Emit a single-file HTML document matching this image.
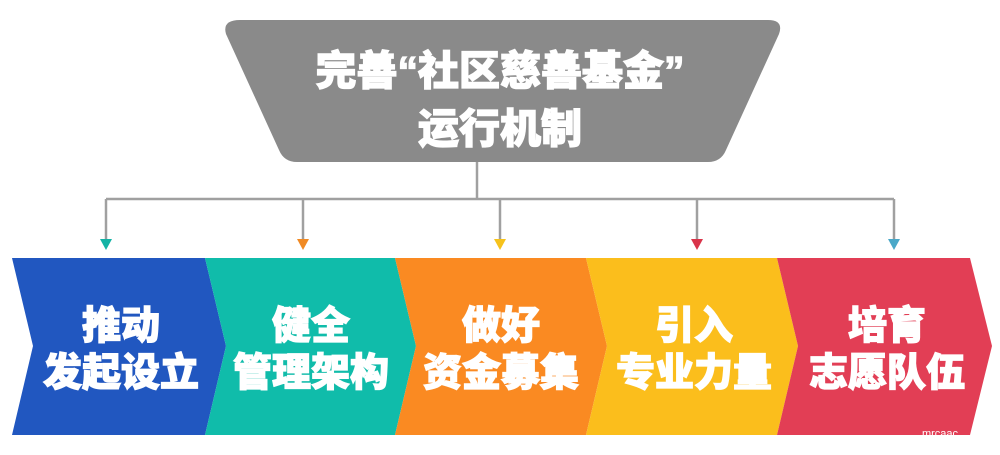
<!DOCTYPE html>
<html><head><meta charset="utf-8"><style>
body{margin:0;background:#fff;width:1000px;height:450px;overflow:hidden}
svg text{font-family:"Liberation Sans","Noto Sans CJK SC",sans-serif;font-weight:900;fill:#fff;stroke:#fff;stroke-width:1.2;text-anchor:middle}
</style></head><body>
<svg width="1000" height="450" viewBox="0 0 1000 450">
<path d="M240,20 L768,20 Q784,20 779,34 L726,150 Q721,162 708,162 L297,162 Q284,162 279,150 L226,34 Q222,20 240,20 Z" fill="#8a8a8a"/>
<text x="500" y="85" font-size="41">完善“社区慈善基金”</text>
<text x="500" y="143" font-size="41">运行机制</text>
<g stroke="#a0a0a0" stroke-width="2.5" fill="none">
<line x1="477" y1="162" x2="477" y2="199"/>
<line x1="106" y1="199" x2="894" y2="199"/>
<line x1="106" y1="199" x2="106" y2="240"/>
<line x1="303" y1="199" x2="303" y2="240"/>
<line x1="500" y1="199" x2="500" y2="240"/>
<line x1="697" y1="199" x2="697" y2="240"/>
<line x1="894" y1="199" x2="894" y2="240"/>
</g>
<polygon points="100,239 112,239 106,250" fill="#14b3a5"/>
<polygon points="297,239 309,239 303,250" fill="#f08a24"/>
<polygon points="494,239 506,239 500,250" fill="#f6c21c"/>
<polygon points="691,239 703,239 697,250" fill="#d9344a"/>
<polygon points="888,239 900,239 894,250" fill="#4aa8c8"/>
<polygon points="12,258 205,258 226,346 205,435 12,435 33,346" fill="#2157c0"/>
<polygon points="205,258 395,258 416,346 395,435 205,435 226,346" fill="#10bcaa"/>
<polygon points="395,258 586,258 607,346 586,435 395,435 416,346" fill="#fa8a22"/>
<polygon points="586,258 777,258 798,346 777,435 586,435 607,346" fill="#fbbe1c"/>
<polygon points="777,258 970,258 992,346 970,435 777,435 798,346" fill="#e23e55"/>
<g font-size="39">
<text x="121" y="339">推动</text><text x="121" y="386">发起设立</text>
<text x="311" y="339">健全</text><text x="311" y="386">管理架构</text>
<text x="501" y="339">做好</text><text x="501" y="386">资金募集</text>
<text x="694" y="339">引入</text><text x="694" y="386">专业力量</text>
<text x="887" y="339">培育</text><text x="887" y="386">志愿队伍</text>
</g>
<text x="940" y="437" font-size="11" style="font-weight:normal;stroke:none">mrcaac</text>
</svg>
</body></html>
